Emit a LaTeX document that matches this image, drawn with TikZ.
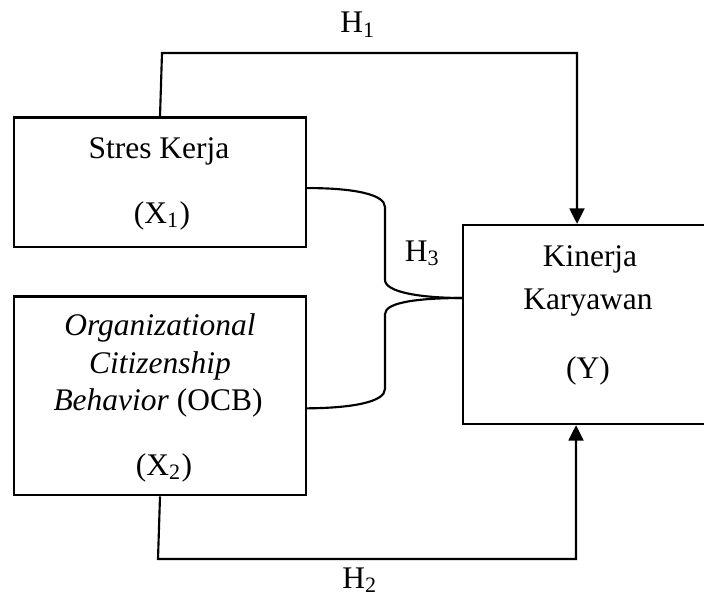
\documentclass[tikz,border=0pt]{standalone}
\usepackage{fontspec}
\setmainfont{Liberation Serif}
\usetikzlibrary{arrows.meta}
\begin{document}
\begin{tikzpicture}[x=0.375pt,y=-0.375pt,
  box/.style={draw,line width=0.9pt,inner sep=0pt},
  conn/.style={line width=0.8pt},
  arr/.style={conn,-{Triangle[length=5.8pt,width=5.6pt]}},
  txt/.style={anchor=base,inner sep=0pt,font=\fontsize{11.8}{11.8}\selectfont}]
\useasboundingbox (0,0) rectangle (704,595);
\clip (0,0) rectangle (704,595);
% boxes
\node[box,minimum width=109.5pt,minimum height=48.4pt] (b1) at (160,182.2) {};
\node[box,minimum width=109.5pt,minimum height=74.6pt] (b2) at (160,395.8) {};
\node[box,minimum width=94.9pt,minimum height=74.6pt] (b3) at (589.5,324.5) {};
% texts
\node[txt] (t1) at (159,158) {Stres Kerja};
\node[txt] (t2) at (162,223) {(X\textsubscript{1})};
\node[txt] (t3) at (160,335) {\itshape Organizational};
\node[txt] (t4) at (160,373) {\itshape Citizenship};
\node[txt] (t5) at (158,410) {\textit{Behavior} (OCB)};
\node[txt] (t6) at (164,475) {(X\textsubscript{2})};
\node[txt] (t7) at (590,266) {Kinerja};
\node[txt] (t8) at (588,309) {Karyawan};
\node[txt] (t9) at (588,378) {(Y)};
\node[txt] (h1) at (358,33) {H\textsubscript{1}};
\node[txt] (h2) at (360,588) {H\textsubscript{2}};
\node[txt] (h3) at (422.5,261) {H\textsubscript{3}};
% H1
\coordinate (h1c) at (162,53);
\coordinate (h1d) at (577,53);
\draw[arr] (b1.north) -- (h1c) -- (h1d) -- (h1d |- b3.north);
% H2
\coordinate (h2c) at (158,559);
\coordinate (h2d) at (576,559);
\draw[arr] (b2.south) -- (h2c) -- (h2d) -- (h2d |- b3.south);
% H3
\coordinate (j) at (463,298);
\draw[conn] ([yshift=-2.2pt]b1.east) .. controls (352,188) and (385,194) .. (385,207)
  -- (385,280) .. controls (385,292) and (420,298) .. (j);
\draw[conn] ([yshift=-4.7pt]b2.east) .. controls (352,408) and (385,402) .. (385,389)
  -- (385,314) .. controls (385,302) and (420,298) .. (j);
\end{tikzpicture}
\end{document}
